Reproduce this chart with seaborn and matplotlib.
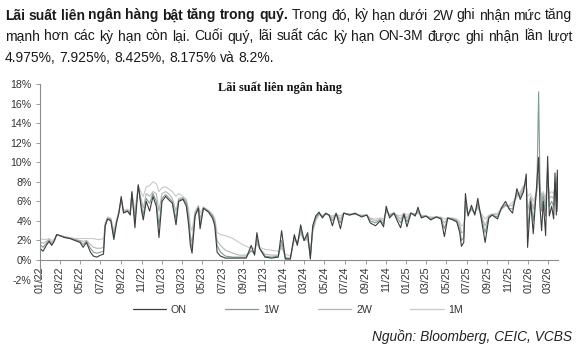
import matplotlib
matplotlib.use("Agg")
import matplotlib.pyplot as plt
import matplotlib.dates as mdates
from matplotlib.lines import Line2D
import numpy as np
import pandas as pd
import seaborn as sns

# ---------------- data ----------------
dates = [
    "2022-01-01", "2022-01-10", "2022-01-20", "2022-01-28", "2022-02-05", "2022-02-12", "2022-02-20",
    "2022-03-01", "2022-03-15", "2022-04-01", "2022-04-15", "2022-05-01", "2022-05-10", "2022-05-20",
    "2022-06-01", "2022-06-10", "2022-06-20", "2022-07-01", "2022-07-10", "2022-07-15", "2022-07-22",
    "2022-08-01", "2022-08-10", "2022-08-18", "2022-08-25", "2022-09-01", "2022-09-08", "2022-09-20",
    "2022-09-28", "2022-10-03", "2022-10-12", "2022-10-22", "2022-11-01", "2022-11-06", "2022-11-15",
    "2022-11-25", "2022-12-05", "2022-12-15", "2022-12-23",
    "2023-01-01", "2023-01-12", "2023-01-20", "2023-02-01", "2023-02-12", "2023-02-20", "2023-03-05",
    "2023-03-15", "2023-03-22", "2023-03-27", "2023-04-01", "2023-04-10", "2023-04-20", "2023-04-25",
    "2023-05-05", "2023-05-20", "2023-06-01", "2023-06-08", "2023-06-15", "2023-06-25", "2023-07-10",
    "2023-08-01", "2023-08-20", "2023-09-10", "2023-09-25", "2023-10-05", "2023-10-12", "2023-10-20",
    "2023-11-05", "2023-11-25", "2023-12-15", "2023-12-25",
    "2024-01-05", "2024-01-20", "2024-02-01", "2024-02-10", "2024-02-20", "2024-03-01", "2024-03-12",
    "2024-03-20", "2024-03-27", "2024-04-05", "2024-04-15", "2024-04-25", "2024-05-05", "2024-05-15",
    "2024-05-25", "2024-06-05", "2024-06-18", "2024-06-28", "2024-07-15", "2024-08-01", "2024-08-20",
    "2024-09-05", "2024-09-15", "2024-10-01", "2024-10-15", "2024-10-25", "2024-11-02", "2024-11-12",
    "2024-11-25", "2024-12-05", "2024-12-15", "2024-12-25",
    "2025-01-03", "2025-01-15", "2025-01-28", "2025-02-05", "2025-02-15", "2025-03-01", "2025-03-15",
    "2025-04-01", "2025-04-15", "2025-04-25", "2025-05-05", "2025-05-20", "2025-06-01", "2025-06-10",
    "2025-06-15", "2025-06-22", "2025-06-27", "2025-07-05", "2025-07-15", "2025-07-25", "2025-08-03",
    "2025-08-12", "2025-08-25", "2025-09-05", "2025-09-15", "2025-10-01", "2025-10-12", "2025-10-25",
    "2025-11-05", "2025-11-15", "2025-11-28", "2025-12-08", "2025-12-18", "2025-12-26", "2025-12-30",
    "2026-01-08", "2026-01-16", "2026-01-27", "2026-02-01", "2026-02-05", "2026-02-10", "2026-02-15",
    "2026-02-22", "2026-02-28", "2026-03-05", "2026-03-12", "2026-03-18", "2026-03-22", "2026-03-26",
    "2026-03-29", "2026-03-31",
]

rate_on = [
    1.2, 0.9, 1.5, 1.9, 1.5, 1.9, 2.6,
    2.5, 2.3, 2.2, 2.0, 1.8, 1.3, 1.8,
    0.8, 0.4, 0.3, 0.5, 0.6, 3.5, 4.2,
    4.0, 2.1, 3.8, 4.8, 6.5, 4.8, 5.0,
    4.6, 7.0, 3.3, 7.7, 5.0, 4.1, 6.0,
    5.0, 6.5, 5.5, 2.3,
    6.0, 6.5, 6.2, 5.8, 3.6, 6.0, 6.2,
    5.5, 3.5, 1.5, 0.7, 4.5, 5.3, 3.2,
    5.3, 4.9, 4.3, 3.5, 0.8, 0.4, 0.2,
    0.2, 0.2, 0.2, 1.5, 0.5, 2.8, 1.2,
    0.3, 0.2, 0.3, 3.0,
    0.1, 0.1, 2.6, 1.5, 3.6, 2.0, 2.8,
    0.1, 3.5, 4.5, 4.9, 4.3, 4.8, 4.6,
    3.5, 4.8, 3.2, 4.8, 4.6, 4.8, 4.4,
    4.6, 3.8, 3.5, 4.0, 3.4, 5.5, 4.3,
    4.8, 4.0, 3.3, 4.7,
    3.4, 4.8, 4.5, 5.4, 4.3, 4.5, 4.1,
    4.4, 4.2, 2.4, 4.3, 4.1, 3.9, 2.8,
    1.4, 1.8, 6.8, 4.5, 5.6, 4.6, 6.3,
    4.5, 1.8, 4.3, 4.6, 4.2, 5.3, 6.0,
    5.2, 4.8, 7.3, 6.2, 7.0, 8.8, 1.3,
    6.0, 2.7, 8.0, 10.5, 5.5, 3.0, 6.0,
    2.5, 10.6, 4.5, 5.5, 4.2, 8.9, 4.6,
    9.2, 4.975,
]

rate_1w = [
    1.6, 1.3, 1.7, 2.0, 1.6, 1.9, 2.6,
    2.5, 2.35, 2.2, 2.1, 1.9, 1.6, 1.9,
    1.2, 0.8, 0.7, 0.8, 0.9, 3.5, 4.2,
    4.1, 2.4, 3.9, 4.8, 6.3, 4.9, 5.0,
    4.7, 6.8, 4.0, 7.6, 5.5, 4.6, 6.3,
    5.8, 6.8, 6.0, 3.5,
    6.3, 6.7, 6.4, 6.0, 4.2, 6.1, 6.3,
    5.8, 4.0, 2.0, 1.2, 4.6, 5.4, 3.6,
    5.3, 5.0, 4.5, 3.8, 1.5, 0.8, 0.4,
    0.3, 0.3, 0.3, 1.0, 0.6, 2.3, 1.2,
    0.4, 0.3, 0.4, 2.0,
    0.2, 0.1, 2.4, 1.6, 3.2, 2.0, 2.5,
    0.3, 3.2, 4.3, 4.8, 4.4, 4.7, 4.6,
    4.0, 4.7, 3.8, 4.8, 4.6, 4.7, 4.5,
    4.6, 4.0, 3.8, 4.1, 3.7, 5.2, 4.5,
    4.8, 4.3, 3.8, 4.7,
    3.9, 4.8, 4.6, 5.1, 4.4, 4.5, 4.2,
    4.4, 4.3, 3.2, 4.3, 4.2, 4.0, 3.2,
    2.0, 2.3, 6.0, 4.6, 5.3, 4.7, 5.8,
    4.6, 2.8, 4.4, 4.6, 4.4, 5.2, 5.7,
    5.3, 5.2, 6.9, 6.5, 7.2, 8.2, 3.0,
    6.3, 4.0, 7.5, 17.2, 8.0, 5.0, 6.5,
    4.5, 9.5, 5.5, 6.0, 5.5, 8.0, 6.0,
    8.5, 7.925,
]

rate_2w = [
    1.9, 1.7, 1.9, 2.1, 1.8, 2.0, 2.6,
    2.5, 2.4, 2.25, 2.1, 2.0, 1.9, 2.0,
    1.6, 1.3, 1.2, 1.2, 1.3, 3.6, 4.3,
    4.2, 2.7, 4.0, 4.9, 6.2, 5.0, 5.1,
    4.9, 6.8, 4.6, 7.5, 6.0, 5.3, 6.8,
    6.5, 7.0, 6.8, 5.0,
    6.8, 7.0, 6.8, 6.3, 5.0, 6.3, 6.4,
    6.0, 4.5, 2.5, 1.8, 4.8, 5.5, 4.2,
    5.4, 5.0, 4.6, 4.0, 2.0, 1.5, 1.0,
    0.7, 0.5, 0.5, 0.9, 0.8, 1.9, 1.2,
    0.6, 0.5, 0.5, 1.5,
    0.3, 0.2, 2.2, 1.7, 2.9, 2.0, 2.2,
    0.5, 3.0, 4.2, 4.7, 4.5, 4.7, 4.6,
    4.3, 4.7, 4.2, 4.8, 4.7, 4.7, 4.5,
    4.6, 4.2, 4.0, 4.2, 4.0, 5.0, 4.6,
    4.8, 4.5, 4.2, 4.7,
    4.3, 4.8, 4.7, 4.9, 4.5, 4.5, 4.3,
    4.4, 4.3, 3.8, 4.3, 4.2, 4.1, 3.6,
    2.8, 2.9, 5.5, 4.7, 5.2, 4.8, 5.5,
    4.7, 3.5, 4.5, 4.7, 4.6, 5.2, 5.6,
    5.5, 5.6, 6.6, 6.8, 7.5, 7.8, 5.0,
    6.5, 5.2, 7.2, 10.0, 7.5, 6.0, 6.8,
    5.5, 8.8, 6.3, 6.5, 6.3, 7.8, 7.0,
    8.6, 8.425,
]

rate_1m = [
    2.2, 2.1, 2.1, 2.2, 2.0, 2.1, 2.6,
    2.5, 2.4, 2.3, 2.2, 2.2, 2.2, 2.2,
    2.2, 2.2, 2.1, 2.1, 2.2, 3.8, 4.4,
    4.3, 3.0, 4.1, 5.0, 6.0, 5.1, 5.2,
    5.0, 6.9, 5.0, 7.6, 6.8, 6.5, 7.5,
    7.6, 8.0, 7.8, 7.0,
    7.4, 7.5, 7.3, 7.0, 6.5, 6.8, 6.5,
    6.2, 5.2, 3.5, 3.0, 5.0, 5.6, 4.8,
    5.4, 5.1, 4.7, 4.3, 2.8, 2.6, 2.5,
    2.2, 1.8, 1.4, 1.2, 1.2, 1.6, 1.3,
    1.1, 1.0, 0.9, 1.2,
    0.6, 0.4, 2.0, 1.8, 2.7, 2.1, 2.0,
    1.0, 2.8, 4.0, 4.6, 4.6, 4.7, 4.6,
    4.5, 4.7, 4.5, 4.8, 4.7, 4.7, 4.6,
    4.6, 4.3, 4.2, 4.3, 4.2, 4.9, 4.7,
    4.8, 4.6, 4.5, 4.8,
    4.6, 4.8, 4.7, 4.8, 4.6, 4.5, 4.4,
    4.4, 4.4, 4.2, 4.3, 4.3, 4.2, 3.9,
    3.5, 3.6, 5.0, 4.8, 5.1, 4.9, 5.3,
    4.8, 4.2, 4.6, 4.7, 4.8, 5.2, 5.5,
    5.6, 5.9, 6.4, 7.0, 7.6, 7.6, 6.5,
    6.8, 6.0, 7.0, 8.5, 7.2, 6.5, 7.0,
    6.2, 8.0, 6.8, 7.0, 6.8, 7.5, 7.5,
    8.3, 8.175,
]

series_names = ["ON", "1W", "2W", "1M"]
ytick_values = [-2, 0, 2, 4, 6, 8, 10, 12, 14, 16, 18]

title_text = "Lãi suất liên ngân hàng"
source_text = "Nguồn: Bloomberg, CEIC, VCBS"
para_lines = [
    [("Lãi suất liên ngân hàng bật tăng trong quý.", "bold"),
     ("Trong đó, kỳ hạn dưới 2W ghi nhận mức tăng", "normal")],
    [("mạnh hơn các kỳ hạn còn lại. Cuối quý, lãi suất các kỳ hạn ON-3M được ghi nhận lần lượt", "normal")],
    [("4.975%, 7.925%, 8.425%, 8.175% và 8.2%.", "normal")],
]

# ---------------- build frame ----------------
df = pd.DataFrame({
    "date": pd.to_datetime(dates),
    "ON": rate_on, "1W": rate_1w, "2W": rate_2w, "1M": rate_1m,
})
long = df.melt(id_vars="date", var_name="tenor", value_name="rate")

sns.set_style("white")
plt.rcParams["font.family"] = ["Liberation Sans", "DejaVu Sans"]

W, H = 578, 350
fig = plt.figure(figsize=(W / 100, H / 100), dpi=100)
ax = fig.add_axes([40 / W, 1 - 279.6 / H, 518 / W, (279.6 - 84) / H])

palette = {"ON": "#3d3d3d", "1W": "#7f9c96", "2W": "#b5b5b5", "1M": "#c9c9c9"}
order = ["1M", "2W", "1W", "ON"]
for name in order:
    sub = long[long["tenor"] == name]
    sns.lineplot(data=sub, x="date", y="rate", ax=ax, color=palette[name],
                 linewidth=0.8, legend=False)

ax.set_xlim(pd.Timestamp("2022-01-01"), pd.Timestamp("2026-03-31"))
ax.set_ylim(-2, 18)
ax.set_yticks(ytick_values)
ax.set_yticklabels([f"{v}%" for v in ytick_values])
ax.xaxis.set_major_locator(mdates.MonthLocator(bymonth=[1, 3, 5, 7, 9, 11]))
ax.xaxis.set_major_formatter(mdates.DateFormatter("%m/%y"))
ax.set_xlabel("")
ax.set_ylabel("")

for s in ["top", "right"]:
    ax.spines[s].set_visible(False)
ax.spines["bottom"].set_position(("data", 0))
for s in ["left", "bottom"]:
    ax.spines[s].set_color("#8c8c8c")
    ax.spines[s].set_linewidth(0.8)
ax.tick_params(axis="y", which="major", length=3, width=0.6, color="#8c8c8c",
               labelsize=7.7, labelcolor="#333333", pad=3, left=True)
ax.tick_params(axis="x", which="major", length=3, width=0.6, color="#8c8c8c",
               labelsize=7.7, labelcolor="#333333", pad=1.5, bottom=True,
               labelrotation=90)

# inner title
fig.text(280 / W, 1 - 88 / H, title_text, ha="center", va="center",
         fontsize=8.9, fontweight="bold", family=["Liberation Serif", "DejaVu Serif"],
         color="#111111")

# legend
handles = [Line2D([0], [0], color=palette[n], lw=0.9) for n in series_names]
fig.legend(handles, series_names, loc="center", bbox_to_anchor=(298 / W, 1 - 310 / H),
           ncol=4, frameon=False, fontsize=7.7, handlelength=3.1, handletextpad=0.47,
           columnspacing=3.6, labelcolor="#333333")

# source
fig.text(572 / W, 1 - 341 / H, source_text, ha="right", va="baseline",
         fontsize=9.9, style="italic", color="#222222")

# justified paragraph
renderer = fig.canvas.get_renderer()
left_px, right_px = 5, 572
baselines = [19.5, 40.5, 61.5]
fs = 10.0
for li, segs in enumerate(para_lines):
    words = []
    for txt, wt in segs:
        for w in txt.split(" "):
            words.append((w, wt))
    texts = []
    widths = []
    for w, wt in words:
        t = fig.text(0, 0, w, fontsize=fs, fontweight=wt, color="#1a1a1a",
                     va="baseline", ha="left")
        bb = t.get_window_extent(renderer=renderer)
        texts.append(t)
        widths.append(bb.width)
    sp = fig.text(0, 0, "a a", fontsize=fs)
    sp2 = fig.text(0, 0, "aa", fontsize=fs)
    space_w = sp.get_window_extent(renderer=renderer).width - sp2.get_window_extent(renderer=renderer).width
    sp.remove(); sp2.remove()
    if li < len(para_lines) - 1 and len(words) > 1:
        gap = (right_px - left_px - sum(widths)) / (len(words) - 1)
    else:
        gap = space_w
    x = left_px
    for t, wd in zip(texts, widths):
        t.set_position((x / W, 1 - baselines[li] / H))
        x += wd + gap

fig.savefig("out.png", dpi=100)
